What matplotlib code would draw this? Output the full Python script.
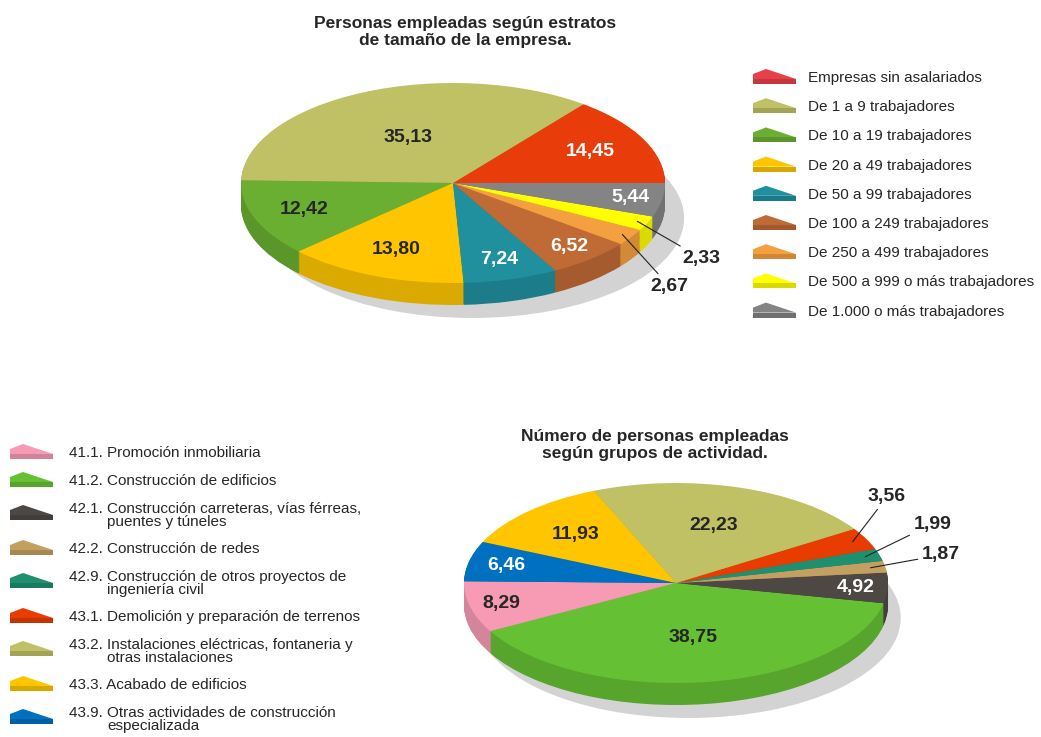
import numpy as np
import matplotlib
matplotlib.use('Agg')
import matplotlib.pyplot as plt
from matplotlib.patches import Polygon, Rectangle
from matplotlib.colors import to_rgb

plt.rcParams['font.family'] = ['Liberation Sans', 'DejaVu Sans']

W, H = 1041, 737

# grafico 1: personas empleadas por estrato de tamaño
estratos = ['Empresas sin asalariados', 'De 1 a 9 trabajadores', 'De 10 a 19 trabajadores',
            'De 20 a 49 trabajadores', 'De 50 a 99 trabajadores', 'De 100 a 249 trabajadores',
            'De 250 a 499 trabajadores', 'De 500 a 999 o más trabajadores',
            'De 1.000 o más trabajadores']
estratos_pct = [14.45, 35.13, 12.42, 13.80, 7.24, 6.52, 2.67, 2.33, 5.44]
estratos_col = ['#e83c0a', '#c0c064', '#6aae32', '#ffc600', '#20909f', '#c06a36',
                '#f4a040', '#ffff00', '#848484']
estratos_icon = ['#e8404a'] + estratos_col[1:]

# grafico 2: personas empleadas por grupo de actividad
grupos = ['41.1. Promoción inmobiliaria', '41.2. Construcción de edificios',
          '42.1. Construcción carreteras, vías férreas,\npuentes y túneles',
          '42.2. Construcción de redes',
          '42.9. Construcción de otros proyectos de\ningeniería civil',
          '43.1. Demolición y preparación de terrenos',
          '43.2. Instalaciones eléctricas, fontaneria y\notras instalaciones',
          '43.3. Acabado de edificios',
          '43.9. Otras actividades de construcción\nespecializada']
grupos_pct = [8.29, 38.75, 4.92, 1.87, 1.99, 3.56, 22.23, 11.93, 6.46]
grupos_col = ['#f79ab4', '#66c034', '#4d4844', '#c4a060', '#1e9070', '#e83c00',
              '#c0c064', '#ffc600', '#0070c0']

# estilo de etiquetas (radio dentro de la tarta, color)
estratos_lab_r = [0.72, 0.5, 0.75, 0.72, 0.8, 0.84, None, None, 0.85]
estratos_lab_c = ['w', 'k', 'k', 'k', 'w', 'w', 'k', 'k', 'w']
grupos_lab_r = [0.85, 0.55, 0.85, None, None, None, 0.6, 0.68, 0.82]
grupos_lab_c = ['k', 'k', 'w', 'k', 'k', 'k', 'k', 'k', 'w']

SX, SY = 212, 100     # px per unit
TXT = '#262626'
LAB_FS = 14
LEG_FS = 11


def darker(c, f=0.86):
    r, g, b = to_rgb(c)
    return (r * f, g * f, b * f)


def fmt(v):
    return f'{v:.2f}'.replace('.', ',')


def pie_ax(fig, cx, cy):
    x0, x1, y0, y1 = -1.3, 1.5, -1.4, 1.1
    left = cx + x0 * SX
    top = cy - y1 * SY
    ax = fig.add_axes([left / W, 1 - (top + (y1 - y0) * SY) / H,
                       (x1 - x0) * SX / W, (y1 - y0) * SY / H])
    return ax, (x0, x1, y0, y1)


def pie3d(ax, lims, vals, cols, start, shadow, depth=0.22):
    ax.pie([1], colors=['#d3d3d3'], center=shadow, wedgeprops=dict(linewidth=0))
    n = 24
    for k in range(n, 0, -1):
        ax.pie(vals, colors=[darker(c) for c in cols], startangle=start,
               center=(0, -depth * k / n), wedgeprops=dict(linewidth=0))
    wedges, _ = ax.pie(vals, colors=cols, startangle=start,
                       wedgeprops=dict(linewidth=0))
    ax.set_aspect('auto')
    ax.set_xlim(lims[0], lims[1])
    ax.set_ylim(lims[2], lims[3])
    ax.axis('off')
    return wedges


def mid(w):
    return np.deg2rad((w.theta1 + w.theta2) / 2)


fig = plt.figure(figsize=(W / 100, H / 100), dpi=100)

# --- tarta superior
ax1, lim1 = pie_ax(fig, 453, 183)
w1 = pie3d(ax1, lim1, estratos_pct, estratos_col, 0, (0.09, -0.35))
for w, v, r, c in zip(w1, estratos_pct, estratos_lab_r, estratos_lab_c):
    if r is None:
        continue
    a = mid(w)
    ax1.text(r * np.cos(a), r * np.sin(a), fmt(v), ha='center', va='center',
             fontsize=LAB_FS, fontweight='bold', color='white' if c == 'w' else TXT)
out1 = {6: (1.02, -1.03), 7: (1.17, -0.75)}
for i, pos in out1.items():
    a = mid(w1[i])
    ax1.annotate(fmt(estratos_pct[i]), xy=(0.95 * np.cos(a), 0.95 * np.sin(a)), xytext=pos,
                 ha='center', va='center', fontsize=LAB_FS, fontweight='bold', color=TXT,
                 arrowprops=dict(arrowstyle='-', color='#222222', lw=0.8, shrinkA=1, shrinkB=0))

# --- tarta inferior
ax2, lim2 = pie_ax(fig, 676, 583)
w2 = pie3d(ax2, lim2, grupos_pct, grupos_col, 179, (0.06, -0.35))
for w, v, r, c in zip(w2, grupos_pct, grupos_lab_r, grupos_lab_c):
    if r is None:
        continue
    a = mid(w)
    ax2.text(r * np.cos(a), r * np.sin(a), fmt(v), ha='center', va='center',
             fontsize=LAB_FS, fontweight='bold', color='white' if c == 'w' else TXT)
out2 = {3: (1.25, 0.28), 4: (1.21, 0.59), 5: (0.995, 0.86)}
for i, pos in out2.items():
    a = mid(w2[i])
    ax2.annotate(fmt(grupos_pct[i]), xy=(0.93 * np.cos(a), 0.93 * np.sin(a)), xytext=pos,
                 ha='center', va='center', fontsize=LAB_FS, fontweight='bold', color=TXT,
                 arrowprops=dict(arrowstyle='-', color='#222222', lw=0.8, shrinkA=1, shrinkB=0))

# --- capa de textos y leyendas (coordenadas en pixeles)
ov = fig.add_axes([0, 0, 1, 1])
ov.set_xlim(0, W)
ov.set_ylim(H, 0)
ov.axis('off')
ov.patch.set_alpha(0)

ov.text(465, 32, 'Personas empleadas según estratos\nde tamaño de la empresa.', ha='center',
        va='center', fontsize=12.5, fontweight='bold', color=TXT, linespacing=1.15)
ov.text(655, 445, 'Número de personas empleadas\nsegún grupos de actividad.', ha='center',
        va='center', fontsize=12.5, fontweight='bold', color=TXT, linespacing=1.15)


def icono(x, y, col):
    ov.add_patch(Polygon([(x, y + 1), (x, y - 4), (x + 13, y - 9), (x + 43, y + 1)],
                         closed=True, facecolor=col, edgecolor='none'))
    ov.add_patch(Rectangle((x, y + 1), 43, 5, facecolor=darker(col, 0.85), edgecolor='none'))


y = 78
for lab, col in zip(estratos, estratos_icon):
    icono(753, y, col)
    ov.text(808, y, lab, ha='left', va='center', fontsize=LEG_FS, color=TXT)
    y += 29.2

y = 453
for lab, col in zip(grupos, grupos_col):
    lines = lab.split('\n')
    icono(10, y + (5 if len(lines) > 1 else 0), col)
    ov.text(69, y, lines[0], ha='left', va='center', fontsize=LEG_FS, color=TXT)
    if len(lines) > 1:
        ov.text(107, y + 13, lines[1], ha='left', va='center', fontsize=LEG_FS, color=TXT)
        y += 40
    else:
        y += 28

fig.savefig('out.png', dpi=100)
